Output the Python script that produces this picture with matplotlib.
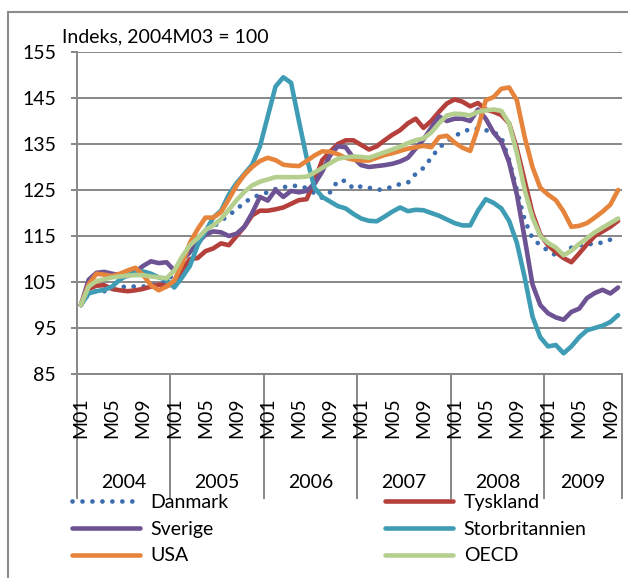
import numpy as np
import matplotlib.pyplot as plt
from matplotlib.lines import Line2D

plt.rcParams['font.family'] = ['Lato', 'DejaVu Sans']

# monthly index values, 2004M01 .. 2009M10
danmark = [100, 102.5, 103, 103, 103.3, 103.8, 104.1, 104, 104, 104.3, 104.5, 105,
           107, 109.6, 111.5, 113.5, 115.5, 117, 118.3, 119.5, 120.8, 122.3, 123.3, 124,
           124.5, 125.2, 125.6, 125.9, 125.9, 125.4, 124.3, 123.3, 124.5, 127, 127, 125.3,
           125.8, 125.5, 125, 125.2, 125.7, 126.3, 126.6, 128.5, 129.8, 132, 134.2, 135.5,
           136.8, 137.5, 138.3, 138.3, 138, 137.6, 136.5, 131.5, 125, 118.5, 114.5, 113,
           111.8, 110.8, 111, 112.5, 113, 113.2, 113.3, 113.6, 114.2, 114.8]
tyskland = [100, 103.5, 104.2, 104.3, 103.5, 103.2, 103, 103.2, 103.5, 104, 104.4, 104.2,
            104.5, 107.5, 110, 110.2, 111.7, 112.3, 113.4, 113, 115, 117, 119.5, 120.5,
            120.5, 120.8, 121.2, 122, 122.8, 123, 127, 131.5, 133.3, 135, 135.8, 135.8,
            134.8, 133.8, 134.5, 135.8, 137, 138, 139.5, 140.5, 138.5, 140, 142, 143.8,
            144.7, 144.2, 143.2, 143.9, 142.5, 142, 141.3, 139.5, 134, 127, 120, 115.3,
            113, 111.5, 110.2, 109.3, 111.2, 113.2, 115, 116, 117, 118.3]
sverige = [100, 105.5, 107, 107.2, 106.8, 106.5, 106.3, 107.2, 108.5, 109.5, 109.1, 109.3,
           107.5, 109.8, 111.5, 113.5, 115.3, 116, 115.8, 115, 115.5, 117, 120, 123.5,
           122.7, 125, 123.5, 124.8, 124.5, 124.8, 126.3, 129, 132.5, 134.5, 134.3, 132,
           130.4, 130, 130.2, 130.4, 130.7, 131.2, 132, 134, 136, 138.5, 141, 140,
           140.5, 140.5, 140, 142.5, 140.5, 137.5, 135.5, 131, 124, 114.5, 104.5, 100,
           98.2, 97.3, 96.8, 98.5, 99.2, 101.5, 102.6, 103.3, 102.5, 103.8]
storbritannien = [100, 102.5, 103, 103.3, 104, 105.5, 106.5, 107, 107.3, 106.8, 106, 105.5,
                  103.8, 106, 108.5, 113, 116, 119, 120.5, 124, 126.5, 128.5, 130.5, 134.5,
                  141, 147.5, 149.5, 148.3, 140, 132, 125.5, 123.5, 122.5, 121.5, 121, 119.8,
                  118.8, 118.3, 118.2, 119.2, 120.3, 121.2, 120.4, 120.7, 120.6, 120, 119.4, 118.6,
                  117.8, 117.3, 117.3, 120.5, 123, 122.2, 121, 118.3, 113.5, 106, 97.5, 93,
                  91, 91.3, 89.5, 91, 93, 94.5, 95, 95.5, 96.3, 97.8]
usa = [100, 104.5, 106.8, 106.6, 106.3, 106.8, 107.5, 108.1, 106.5, 104.3, 103.2, 104,
       105.3, 109, 113.5, 116.5, 119, 119, 120.2, 123, 126, 128.3, 130, 131.3,
       132, 131.5, 130.5, 130.3, 130.2, 131.3, 132.5, 133.4, 133.3, 132.8, 132, 131.6,
       131.4, 131.4, 132, 132.6, 133, 133.5, 134, 134.3, 134.6, 134.3, 136.5, 136.8,
       135.3, 134.2, 133.5, 138.5, 144.5, 145.2, 147, 147.3, 144.5, 136.5, 130, 125.5,
       124, 122.8, 120.3, 117, 117.2, 117.8, 119, 120.3, 121.8, 125]
oecd = [100, 104, 105.2, 105.6, 106, 106.2, 106.4, 106.5, 106.5, 106.2, 106, 105.8,
        107.5, 110.5, 113, 114.5, 116.3, 117.3, 118.7, 120.7, 122.8, 124.6, 126, 126.8,
        127.3, 127.8, 127.8, 127.8, 127.8, 127.9, 128.8, 129.8, 130.8, 131.8, 132.1, 132.3,
        132.2, 132, 132.6, 133.2, 133.8, 134.4, 135.2, 135.8, 136.2, 137.5, 139.5, 141.2,
        141.6, 141.5, 141.2, 142, 142.3, 142.5, 142.2, 139.5, 133, 125, 119, 115,
        113.5, 112.5, 110.8, 111.8, 113.3, 114.5, 115.8, 116.8, 117.8, 118.8]

years = ['2004', '2005', '2006', '2007', '2008', '2009']
months_per_year = [12, 12, 12, 12, 12, 10]
month_labels = ['M01', 'M05', 'M09']
month_label_idx = [0, 4, 8]

names = ['Danmark', 'Tyskland', 'Sverige', 'Storbritannien', 'USA', 'OECD']
colors = ['#3C6DAE', '#B5403B', '#6E5394', '#3E9DB4', '#E5843A', '#B5CF8E']

series = [danmark, tyskland, sverige, storbritannien, usa, oecd]
n = len(danmark)
x = np.arange(n) + 0.5

W, H = 628, 578
fs = 14
fig = plt.figure(figsize=(W / 100, H / 100), dpi=100)
ax = fig.add_axes([77 / W, 1 - 374 / H, 545 / W, 322 / H])

grid_col = '#878787'
handles = []
for s, name, c in zip(series, names, colors):
    if name == 'Danmark':
        ln, = ax.plot(x, s, color=c, lw=3.4, linestyle=(0, (0.01, 2.1)),
                      dash_capstyle='round', label=name)
    else:
        ln, = ax.plot(x, s, color=c, lw=3.3, solid_joinstyle='round',
                      solid_capstyle='round', label=name)
    handles.append(ln)

ax.set_xlim(0, n)
ax.set_ylim(85, 155)
ax.set_yticks(np.arange(85, 156, 10))
ax.yaxis.grid(True, color=grid_col, lw=1.4)
ax.set_axisbelow(True)
for sp in ['top', 'right']:
    ax.spines[sp].set_visible(False)
ax.spines['left'].set_color(grid_col)
ax.spines['bottom'].set_color(grid_col)
ax.spines['left'].set_linewidth(1.4)
ax.spines['bottom'].set_linewidth(1.4)
ax.tick_params(axis='y', length=4, width=1.4, color=grid_col, pad=11, labelsize=fs)

# year boundaries as long tick marks
bounds = np.concatenate([[0], np.cumsum(months_per_year)])
ax.set_xticks(bounds)
ax.set_xticklabels([])
ax.tick_params(axis='x', length=90, width=1.4, color=grid_col, direction='out')

trans = ax.get_xaxis_transform()
ax_h = 322
start = 0
for yr, nm in zip(years, months_per_year):
    for lab, k in zip(month_labels, month_label_idx):
        if k < nm:
            ax.text(start + k + 0.5, -23 / ax_h, lab, transform=trans, rotation=90,
                    ha='center', va='top', fontsize=fs)
    ax.text(start + nm / 2, -108 / ax_h, yr, transform=trans, ha='center',
            va='center', fontsize=fs)
    start += nm

fig.text(62 / W, 1 - 37 / H, 'Indeks, 2004M03 = 100', ha='left', va='center', fontsize=fs)

# legend, two columns
leg_kw = dict(loc='upper left', frameon=False, fontsize=fs, handlelength=3.5,
              handletextpad=0.55, labelspacing=0.5, borderpad=0, borderaxespad=0)
fig.legend(handles[0::2], names[0::2], bbox_to_anchor=(72 / W, 1 - 494 / H), **leg_kw)
fig.legend(handles[1::2], names[1::2], bbox_to_anchor=(385 / W, 1 - 494 / H), **leg_kw)

# outer frame
fig.add_artist(Line2D([8 / W, 8 / W], [0, 1 - 12 / H], color='#8c8c8c', lw=1.5))
fig.add_artist(Line2D([8 / W, 1], [1 - 12 / H, 1 - 12 / H], color='#8c8c8c', lw=1.5))

fig.savefig('out.png', dpi=100)
